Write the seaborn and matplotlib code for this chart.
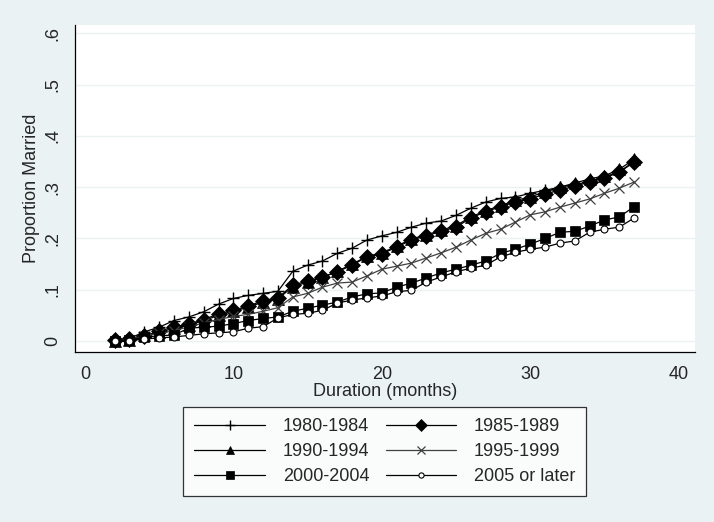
import seaborn as sns
import matplotlib.pyplot as plt
import pandas as pd
import numpy as np

sns.set_style("white")
plt.rcParams['font.family'] = ['Liberation Sans', 'DejaVu Sans']

# months of duration
months = list(range(2, 38))

# proportion married by cohort
p_1980 = [0.000, 0.005, 0.018, 0.027, 0.040, 0.047, 0.057, 0.072, 0.083, 0.089, 0.093, 0.097,
          0.136, 0.148, 0.156, 0.171, 0.181, 0.197, 0.205, 0.212, 0.222, 0.230, 0.234, 0.245,
          0.259, 0.271, 0.278, 0.281, 0.288, 0.294, 0.300, 0.305, 0.311, 0.320, 0.330, 0.350]
p_1985 = [0.002, 0.004, 0.009, 0.020, 0.027, 0.033, 0.042, 0.053, 0.060, 0.068, 0.079, 0.084,
          0.109, 0.117, 0.125, 0.135, 0.148, 0.164, 0.170, 0.183, 0.197, 0.205, 0.214, 0.222,
          0.240, 0.252, 0.262, 0.271, 0.277, 0.287, 0.294, 0.302, 0.310, 0.318, 0.329, 0.349]
p_1990 = [0.001, 0.003, 0.011, 0.017, 0.025, 0.031, 0.040, 0.050, 0.058, 0.066, 0.076, 0.082,
          0.106, 0.115, 0.124, 0.136, 0.150, 0.165, 0.172, 0.185, 0.199, 0.207, 0.216, 0.225,
          0.242, 0.254, 0.264, 0.274, 0.281, 0.291, 0.300, 0.308, 0.316, 0.322, 0.335, 0.354]
p_1995 = [0.000, 0.003, 0.010, 0.015, 0.020, 0.028, 0.035, 0.042, 0.048, 0.052, 0.058, 0.065,
          0.086, 0.093, 0.105, 0.113, 0.115, 0.127, 0.140, 0.146, 0.152, 0.162, 0.172, 0.183,
          0.197, 0.210, 0.218, 0.232, 0.246, 0.252, 0.261, 0.269, 0.277, 0.288, 0.298, 0.310]
p_2000 = [0.000, 0.002, 0.008, 0.010, 0.012, 0.025, 0.027, 0.029, 0.034, 0.040, 0.044, 0.047,
          0.058, 0.064, 0.070, 0.076, 0.086, 0.092, 0.094, 0.105, 0.113, 0.123, 0.133, 0.140,
          0.148, 0.156, 0.171, 0.179, 0.189, 0.200, 0.212, 0.214, 0.224, 0.236, 0.242, 0.262]
p_2005 = [0.000, 0.001, 0.004, 0.006, 0.008, 0.011, 0.014, 0.016, 0.018, 0.025, 0.028, 0.045,
          0.052, 0.054, 0.060, 0.074, 0.080, 0.084, 0.088, 0.096, 0.099, 0.115, 0.125, 0.135,
          0.142, 0.148, 0.164, 0.173, 0.179, 0.183, 0.191, 0.195, 0.212, 0.218, 0.222, 0.240]

cohorts = ["1980-1984", "1985-1989", "1990-1994", "1995-1999", "2000-2004", "2005 or later"]
values = [p_1980, p_1985, p_1990, p_1995, p_2000, p_2005]

# marker styles in Stata-like fashion
styles = {
    "1980-1984": dict(marker="+", markersize=9, mew=1.0, color="black", mfc="black", mec="black"),
    "1985-1989": dict(marker="D", markersize=8, mew=0.5, color="black", mfc="black", mec="black"),
    "1990-1994": dict(marker="^", markersize=8, mew=0.5, color="black", mfc="black", mec="black"),
    "1995-1999": dict(marker="x", markersize=7, mew=0.9, color="#404040", mfc="#404040", mec="#404040"),
    "2000-2004": dict(marker="s", markersize=7, mew=0.5, color="black", mfc="black", mec="black"),
    "2005 or later": dict(marker="o", markersize=5, mew=0.8, color="black", mfc="white", mec="black"),
}

bg = "#EAF2F3"
fig = plt.figure(figsize=(7.14, 5.22), dpi=100, facecolor=bg)
ax = fig.add_axes([0.105, 0.326, 0.868, 0.626])
ax.set_facecolor("white")

for c, v in zip(cohorts, values):
    df = pd.DataFrame({"Duration": months, "Proportion": v})
    st = styles[c]
    sns.lineplot(data=df, x="Duration", y="Proportion", ax=ax, label=c,
                 color=st["color"], marker=st["marker"], markersize=st["markersize"],
                 markeredgewidth=st["mew"], markerfacecolor=st["mfc"],
                 markeredgecolor=st["mec"], linewidth=0.9)

ax.set_xlim(-0.67, 41.08)
ax.set_ylim(-0.021, 0.616)
ax.set_xticks([0, 10, 20, 30, 40])
ax.set_yticks(np.arange(0, 0.61, 0.1))
ax.set_yticklabels(["0", ".1", ".2", ".3", ".4", ".5", ".6"], rotation=90, va="center")
ax.tick_params(axis="both", direction="out", length=5, width=0.8, labelsize=13, color="black")
ax.tick_params(axis="x", pad=5)
ax.tick_params(axis="y", pad=5)
ax.grid(axis="y", color=bg, linewidth=1)
ax.set_axisbelow(True)
for s in ["top", "right"]:
    ax.spines[s].set_visible(False)
for s in ["left", "bottom"]:
    ax.spines[s].set_color("black")
    ax.spines[s].set_linewidth(0.9)

ax.set_xlabel("Duration (months)", fontsize=13, labelpad=0)
ax.set_ylabel("Proportion Married", fontsize=13, labelpad=3)

# Stata fills the legend row by row
handles, labels = ax.get_legend_handles_labels()
order = [0, 2, 4, 1, 3, 5]
leg = ax.legend([handles[i] for i in order], [labels[i] for i in order],
                loc="center", bbox_to_anchor=(0.539, 0.135), bbox_transform=fig.transFigure,
                ncol=2, fontsize=13, frameon=True, fancybox=False, edgecolor="black",
                handlelength=3.9, markerscale=0.75, columnspacing=0.9, handletextpad=1.0,
                borderpad=0.6, labelspacing=0.45)
leg.get_frame().set_linewidth(0.9)

fig.savefig("out.png", dpi=100, facecolor=bg)
plt.close(fig)
